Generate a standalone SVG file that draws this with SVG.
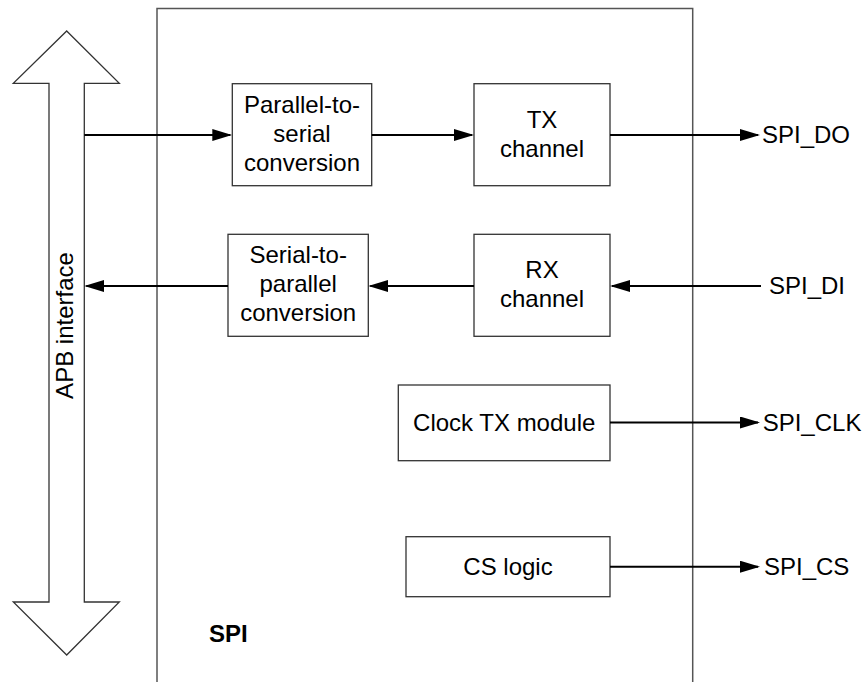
<svg xmlns="http://www.w3.org/2000/svg" width="864" height="682" viewBox="0 0 864 682">
<style>
text{font-family:"Liberation Sans",Arial,sans-serif;font-size:24px;fill:#000}
.box{fill:#fff;stroke:#333;stroke-width:1.3}
.c{text-anchor:middle}
.ln{stroke:#000;stroke-width:2;fill:none}
</style>
<defs>
<marker id="ah" markerUnits="userSpaceOnUse" viewBox="0 0 20 12" refX="18" refY="6" markerWidth="20" markerHeight="12" orient="auto">
<path d="M0,0 L20,6 L0,12 Z" fill="#000"/>
</marker>
</defs>
<rect width="864" height="682" fill="#fff"/>
<g id="spi">
<rect x="157" y="8.5" width="535.7" height="690" fill="none" stroke="#555" stroke-width="1.5"/>
<text x="209" y="642" font-weight="bold">SPI</text>
</g>
<g id="apb">
<polygon points="66.7,31 119.3,83.3 84.3,83.3 84.3,602 119.3,602 66.7,655 13.3,602 49,602 49,83.3 13.3,83.3" fill="#fff" stroke="#333" stroke-width="1.3"/>
<text class="c" transform="translate(73.3,325.5) rotate(-90)">APB interface</text>
</g>
<g id="p2s">
<rect class="box" x="232.3" y="83.7" width="139.4" height="102"/>
<text class="c" x="302" y="113.3">Parallel-to-</text>
<text class="c" x="302" y="142.3">serial</text>
<text class="c" x="302" y="171">conversion</text>
</g>
<g id="tx">
<rect class="box" x="474" y="83.7" width="136" height="102"/>
<text class="c" x="542" y="127.7">TX</text>
<text class="c" x="542" y="156.5">channel</text>
</g>
<g id="s2p">
<rect class="box" x="228" y="234.3" width="140.3" height="102"/>
<text class="c" x="298.2" y="263.3">Serial-to-</text>
<text class="c" x="298.2" y="292">parallel</text>
<text class="c" x="298.2" y="320.7">conversion</text>
</g>
<g id="rx">
<rect class="box" x="474" y="234.3" width="136" height="102"/>
<text class="c" x="542" y="277.7">RX</text>
<text class="c" x="542" y="306.5">channel</text>
</g>
<g id="clk">
<rect class="box" x="398.3" y="385" width="211.7" height="75.7"/>
<text class="c" x="504.2" y="430.5">Clock TX module</text>
</g>
<g id="cs">
<rect class="box" x="406" y="536.7" width="204" height="60"/>
<text class="c" x="508" y="575">CS logic</text>
</g>
<g id="labels">
<text x="762" y="143.3">SPI_DO</text>
<text x="769" y="294">SPI_DI</text>
<text x="762.7" y="431">SPI_CLK</text>
<text x="764" y="575.3">SPI_CS</text>
</g>
<g id="connectors">
<line class="ln" x1="84.3" y1="135" x2="230.3" y2="135" marker-end="url(#ah)"/>
<line class="ln" x1="371.7" y1="135" x2="472" y2="135" marker-end="url(#ah)"/>
<line class="ln" x1="610" y1="135" x2="758" y2="135" marker-end="url(#ah)"/>
<line class="ln" x1="761" y1="286" x2="612" y2="286" marker-end="url(#ah)"/>
<line class="ln" x1="474" y1="286" x2="370.3" y2="286" marker-end="url(#ah)"/>
<line class="ln" x1="228" y1="286" x2="86.3" y2="286" marker-end="url(#ah)"/>
<line class="ln" x1="610" y1="422.5" x2="758" y2="422.5" marker-end="url(#ah)"/>
<line class="ln" x1="610" y1="566.7" x2="758" y2="566.7" marker-end="url(#ah)"/>
</g>
</svg>
